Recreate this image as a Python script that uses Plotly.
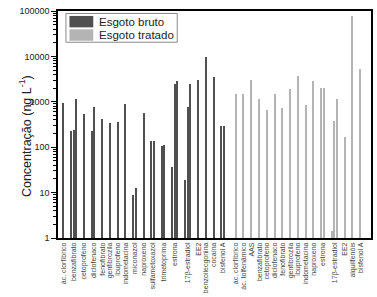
import plotly.graph_objects as go

# ---- data ----
raw_names = ["ác. clorfíbrico", "benzafibrato", "cetoprofeno", "diclofenaco", "fenofibrato",
             "genfibrozila", "ibuprofeno", "indometacina", "miconazol", "naproxeno",
             "sulfametoxazol", "trimetoprima", "estrona", "17β-estradiol", "EE2",
             "benzoilecgonina", "cocaína", "bisfenol A"]
raw_values = [[950], [225, 235, 1130], [530], [228, 765], [410],
              [350], [360], [880], [9, 12.7], [560],
              [138, 138], [104, 113], [37, 2520, 2930], [19, 765, 2450], [3090],
              [9700], [3540], [295, 295]]

treated_names = ["ác. clorfíbrico", "ác. tolfenâmico", "AAS", "benzafibrato", "cetoprofeno",
                 "diclofenaco", "fenofibrato", "genfibrozila", "ibuprofeno", "indometacina",
                 "naproxeno", "estrona", "17β-estradiol", "EE2", "alquilfenóis", "bisfenol A"]
treated_values = [[1450], [1520], [3040], [1170], [650],
                  [1520], [740], [1870], [3650], [870],
                  [2900], [2000, 2000], [1.4, 370, 1180], [170], [79000], [5300]]

series_names = ["Esgoto bruto", "Esgoto tratado"]
series_colors = ["#505050", "#b4b4b4"]

y_tickvals = [1, 10, 100, 1000, 10000, 100000]
y_ticktext = ["1", "10", "100", "1000", "10000", "100000"]

# ---- layout of bar slots (one slot per bar, gap between compounds) ----
GAP = 3
SECTION_GAP = 1.5

W, H = 377, 297
ML, MR, MT, MB = 58, 4, 11, 57
PW, PH = W - ML - MR, H - MT - MB


def px(x):
    return (x - ML) / PW


def py(y):
    return 1 - (y - MT) / PH


def slots(groups, start):
    xs, ys, centers = [], [], []
    pos = start
    for vals in groups:
        s = [pos + i for i in range(len(vals))]
        xs.extend(s)
        ys.extend(vals)
        centers.append(sum(s) / len(s))
        pos = s[-1] + GAP
    return xs, ys, centers, pos


raw_x, raw_y, raw_c, nxt = slots(raw_values, 0)
tr_x, tr_y, tr_c, end = slots(treated_values, nxt + SECTION_GAP)
last = tr_x[-1]

fig = go.Figure()
fig.add_trace(go.Bar(x=raw_x, y=raw_y, width=0.55, name=series_names[0],
                     marker=dict(color=series_colors[0], line=dict(width=0))))
fig.add_trace(go.Bar(x=tr_x, y=tr_y, width=0.55, name=series_names[1],
                     marker=dict(color=series_colors[1], line=dict(width=0))))

# legend drawn as a framed box with swatches and text
shapes = [dict(type="rect", xref="paper", yref="paper",
               x0=px(66), x1=px(178), y0=py(13.5), y1=py(42.5),
               line=dict(color="#888", width=1), fillcolor="white", layer="above")]
annotations = []
for i, (nm, col) in enumerate(zip(series_names, series_colors)):
    top = 16 + i * 13.5
    shapes.append(dict(type="rect", xref="paper", yref="paper",
                       x0=px(69.5), x1=px(93.5), y0=py(top), y1=py(top + 11.5),
                       line=dict(width=0), fillcolor=col, layer="above"))
    annotations.append(dict(text=nm, xref="paper", yref="paper",
                            x=px(97.5), y=py(top + 6), xanchor="left", yanchor="middle",
                            showarrow=False, font=dict(size=11.5, color="#222")))

annotations.append(dict(text="Concentração (ng L<sup>-1</sup>)", textangle=-90,
                        xref="paper", yref="paper", x=px(25), y=0.45,
                        xanchor="center", yanchor="middle", showarrow=False,
                        font=dict(size=12.5, color="#222")))

fig.update_layout(
    width=W, height=H,
    margin=dict(l=ML, r=MR, t=MT, b=MB),
    paper_bgcolor="white", plot_bgcolor="white",
    font=dict(family="Liberation Sans, Arial, sans-serif", color="#222"),
    showlegend=False,
    bargap=0,
    shapes=shapes,
    annotations=annotations,
)
fig.update_xaxes(
    range=[-2.1, last + 4.1],
    tickvals=raw_c + tr_c, ticktext=raw_names + treated_names,
    tickangle=-90, tickfont=dict(size=7, color="#444"),
    ticks="", showgrid=False, zeroline=False,
    showline=True, linecolor="black", linewidth=1.5, mirror=True,
)
fig.update_yaxes(
    type="log", range=[0, 5],
    tickvals=y_tickvals, ticktext=y_ticktext,
    tickfont=dict(size=9, color="#222"),
    ticks="outside", ticklen=5, tickwidth=1, tickcolor="black",
    minor=dict(ticks="outside", ticklen=3, tickcolor="black", dtick="D1", showgrid=False),
    showgrid=False, zeroline=False,
    showline=True, linecolor="black", linewidth=1.5, mirror=True,
)

fig.write_html("out.html", config={"displayModeBar": False},
               post_script="document.body.style.margin='0';")
